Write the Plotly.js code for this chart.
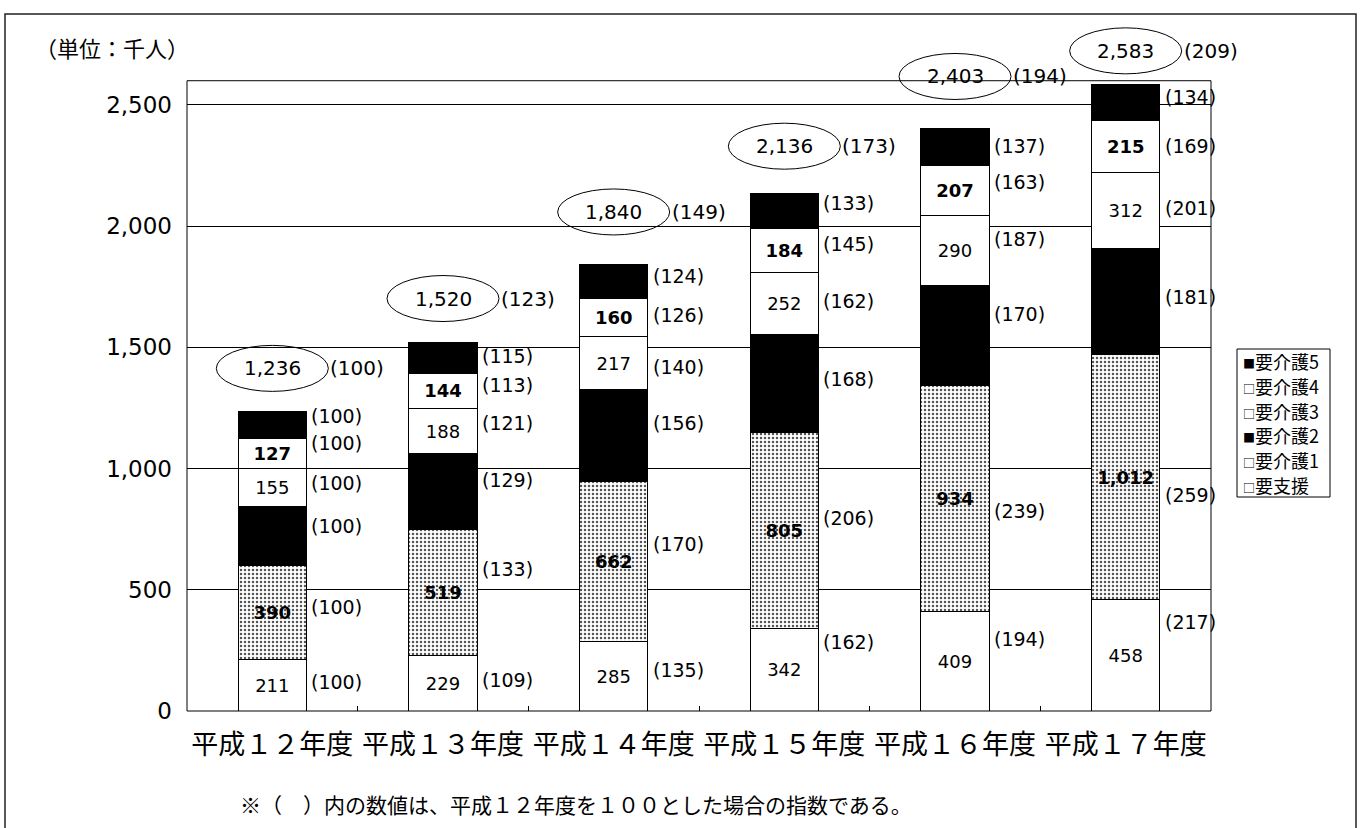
<!DOCTYPE html>
<html><head><meta charset="utf-8">
<script src="https://cdn.plot.ly/plotly-3.0.1.min.js"></script>
<style>html,body{margin:0;padding:0;background:#fff}#chart{width:1362px;height:828px}</style>
</head><body><div id="chart"></div>
<script>
// ---- data (thousand persons) ----
const categories = ['平成１２年度','平成１３年度','平成１４年度','平成１５年度','平成１６年度','平成１７年度'];
const youShien = [211, 229, 285, 342, 409, 458];
const kaigo1   = [390, 519, 662, 805, 934, 1012];
const kaigo2   = [243, 313, 379, 408, 412, 439];
const kaigo3   = [155, 188, 217, 252, 290, 312];
const kaigo4   = [127, 144, 160, 184, 207, 215];
const kaigo5   = [110, 127, 137, 145, 151, 147];
const totals   = [1236, 1520, 1840, 2136, 2403, 2583];
// index (H12 = 100) labels as printed
const idxShien = [100, 109, 135, 162, 194, 217];
const idx1     = [100, 133, 170, 206, 239, 259];
const idx2     = [100, 129, 156, 168, 170, 181];
const idx3     = [100, 121, 140, 162, 187, 201];
const idx4     = [100, 113, 126, 145, 163, 169];
const idx5     = [100, 115, 124, 133, 137, 134];
const idxTotal = [100, 123, 149, 173, 194, 209];
const yTicks   = [0, 500, 1000, 1500, 2000, 2500];

// ---- label placement tweaks (pixels, up = positive) ----
const shiftShien = [3, 3, 6, 28, 22, 33];
const shift1     = [6, 24, 18, 13, -12, -18];
const shift2     = [10, 12, 13, 5, 22, 4];
const shift3     = [5, 8, -4, 3, 11, 2];
const shift4     = [10, 6, 3, 7, 8, 1];
const shift5     = [9, 2, 6, 8, 1, 6];
const ellipseLift = [43, 44, 53, 47, 52, 34];

const fmt = v => v.toLocaleString('en-US');
const NUM = 'DejaVu Sans, Liberation Sans, sans-serif';
const JP = 'Noto Sans CJK JP, sans-serif';
const line = {color:'#000', width:1};
const white = '#ffffff';

const series = [
  {name:'要支援', vals:youShien, idx:idxShien, shift:shiftShien, color:white, text:true, bold:false},
  {name:'要介護1', vals:kaigo1, idx:idx1, shift:shift1, color:white, pattern:true, text:true, bold:true},
  {name:'要介護2', vals:kaigo2, idx:idx2, shift:shift2, color:'#000', text:false},
  {name:'要介護3', vals:kaigo3, idx:idx3, shift:shift3, color:white, text:true, bold:false},
  {name:'要介護4', vals:kaigo4, idx:idx4, shift:shift4, color:white, text:true, bold:true},
  {name:'要介護5', vals:kaigo5, idx:idx5, shift:shift5, color:'#000', text:false}
];

const traces = series.map(s => {
  const t = {
    type:'bar', name:s.name, x:categories, y:s.vals, width:0.4,
    marker:{color:s.color, line:line},
    hoverinfo:'skip', showlegend:false
  };
  if (s.pattern) {
    t.marker.pattern = {shape:'.', fgcolor:'#555', bgcolor:'#fff', size:4, solidity:0.3, fillmode:'replace'};
  }
  if (s.text) {
    t.text = s.vals.map(v => s.bold ? '<b>'+fmt(v)+'</b>' : fmt(v));
    t.textposition = 'inside';
    t.insidetextanchor = 'middle';
    t.textangle = 0;
    t.constraintext = 'none';
    t.textfont = {family:NUM, size:18, color:'#000'};
  }
  return t;
});

const annotations = [];
const base = categories.map(() => 0);
series.forEach(s => {
  s.vals.forEach((v, i) => {
    annotations.push({
      x:i + 0.2, y:base[i] + v/2, xref:'x', yref:'y',
      text:'(' + s.idx[i] + ')', showarrow:false,
      xanchor:'left', yanchor:'middle', xshift:3, yshift:s.shift[i],
      font:{family:NUM, size:19, color:'#000'}
    });
    base[i] += v;
  });
});

const shapes = [];
const yMax = 2900;
const frameTop = 2600;
totals.forEach((t, i) => {
  shapes.push({
    type:'circle', xref:'x', yref:'y', xsizemode:'pixel', ysizemode:'pixel',
    xanchor:i, yanchor:t, x0:-56, x1:56, y0:ellipseLift[i]-23, y1:ellipseLift[i]+23,
    line:{color:'#000', width:1}, fillcolor:'rgba(0,0,0,0)'
  });
  annotations.push({
    x:i, y:t, xref:'x', yref:'y', text:fmt(t), showarrow:false,
    xanchor:'center', yanchor:'middle', yshift:ellipseLift[i],
    font:{family:NUM, size:20, color:'#000'}
  });
  annotations.push({
    x:i, y:t, xref:'x', yref:'y', text:'(' + idxTotal[i] + ')', showarrow:false,
    xanchor:'left', yanchor:'middle', xshift:56, yshift:ellipseLift[i],
    font:{family:NUM, size:20, color:'#000'}
  });
});

// plot frame
shapes.push({type:'rect', xref:'paper', yref:'paper', x0:0, x1:1, y0:0, y1:frameTop / yMax,
  line:{color:'#000', width:1}, layer:'above'});

// pixel -> paper helpers
const M = {l:187, r:151, t:8, b:117};
const PW = 1362 - M.l - M.r, PH = 828 - M.t - M.b;
const px = x => (x - M.l) / PW;
const py = y => (828 - M.b - y) / PH;

// outer border of the figure
shapes.push({type:'rect', xref:'paper', yref:'paper', x0:px(5), x1:px(1356), y0:py(840), y1:py(14),
  line:{color:'#222', width:1.5}});

// legend drawn as a boxed list (symbols as in the original: ■ / □)
const legendBox = {x0:1237, x1:1330, y0:349, y1:497};
shapes.push({type:'rect', xref:'paper', yref:'paper', x0:px(legendBox.x0), x1:px(legendBox.x1),
  y0:py(legendBox.y1), y1:py(legendBox.y0), line:{color:'#000', width:1}, fillcolor:'#fff'});
const legendItems = series.slice().reverse();
const rowH = (legendBox.y1 - legendBox.y0) / legendItems.length;
legendItems.forEach((s, k) => {
  annotations.push({xref:'paper', yref:'paper', x:px(legendBox.x0 + 4), y:py(legendBox.y0 + rowH*(k + 0.5)),
    xanchor:'left', yanchor:'middle', showarrow:false,
    text:'<span style="font-size:12px">' + (s.color === '#000' ? '■' : '□') + '</span>' + s.name,
    font:{family:JP, size:18, color:'#000'}});
});

annotations.push({xref:'paper', yref:'paper', x:px(33), y:py(47), xanchor:'left', yanchor:'middle',
  text:'（単位：千人）', showarrow:false, font:{family:JP, size:22, color:'#000'}});
annotations.push({xref:'paper', yref:'paper', x:px(238), y:py(804), xanchor:'left', yanchor:'middle',
  text:'※（　）内の数値は、平成１２年度を１００とした場合の指数である。', showarrow:false,
  font:{family:JP, size:21, color:'#000'}});

const layout = {
  width:1362, height:828, margin:M,
  paper_bgcolor:'#fff', plot_bgcolor:'#fff',
  barmode:'stack', showlegend:false,
  font:{family:NUM, color:'#000'},
  xaxis:{type:'category', range:[-0.5, 5.5], showgrid:false, zeroline:false, showline:false,
    ticks:'inside', tickson:'boundaries', ticklen:5, tickcolor:'#000', tickangle:0,
    tickfont:{family:JP, size:27, color:'#000'}, ticklabelstandoff:15, fixedrange:true},
  yaxis:{range:[0, yMax], tickvals:yTicks, ticktext:yTicks.map(fmt), showgrid:true,
    gridcolor:'#000', gridwidth:1, zeroline:false, showline:false, ticks:'',
    tickfont:{family:NUM, size:23, color:'#000'}, ticklabelstandoff:14, fixedrange:true},
  annotations:annotations, shapes:shapes
};

Plotly.newPlot('chart', traces, layout, {staticPlot:true, displayModeBar:false});
</script>
</body></html>
